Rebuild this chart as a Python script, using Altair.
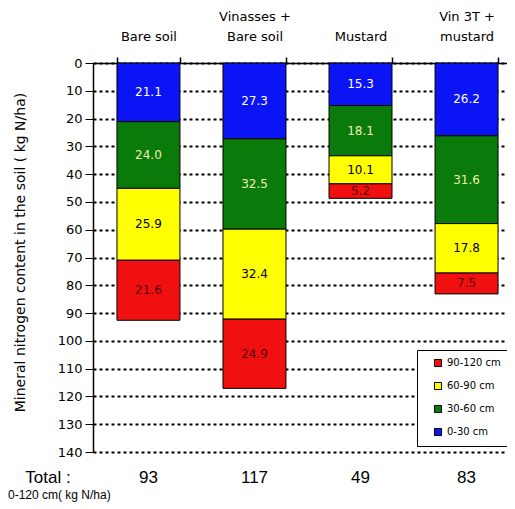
import altair as alt
import pandas as pd

categories = ["Bare soil", "Vinasses + Bare soil", "Mustard", "Vin 3T + mustard"]
layers = ["0-30 cm", "30-60 cm", "60-90 cm", "90-120 cm"]
v0_30 = [21.1, 27.3, 15.3, 26.2]
v30_60 = [24.0, 32.5, 18.1, 31.6]
v60_90 = [25.9, 32.4, 10.1, 17.8]
v90_120 = [21.6, 24.9, 5.2, 7.5]
totals = [93, 117, 49, 83]
y_ticks = list(range(0, 141, 10))

bar_colors = {"0-30 cm": "#0a14f5", "30-60 cm": "#0a7a0a", "60-90 cm": "#ffff00", "90-120 cm": "#f01010"}
text_colors = {"0-30 cm": "#ffffff", "30-60 cm": "#f0f0b0", "60-90 cm": "#000000", "90-120 cm": "#5a0000"}

rows = []
for li, (lay, vals) in enumerate(zip(layers, [v0_30, v30_60, v60_90, v90_120])):
    for c, v in zip(categories, vals):
        rows.append({"category": c, "layer": lay, "order": li, "value": v})
df = pd.DataFrame(rows)
tot_df = pd.DataFrame({"category": categories, "total": totals})

FONT = "DejaVu Sans"
legend_order = layers[::-1]

xscale = alt.Scale(domain=categories, range=[0, 429], paddingInner=0.406, paddingOuter=0.226)

y_axis = alt.Axis(values=y_ticks, grid=True, gridDash=[3, 3], gridColor="black",
                  gridWidth=2, gridOpacity=1, tickSize=8, tickColor="black",
                  domainColor="black", domainWidth=1.5, labelFontSize=13,
                  labelFont=FONT, labelColor="black", labelPadding=3, labelOverlap=False,
                  title="Mineral nitrogen content  in the soil  ( kg N/ha)",
                  titleFont=FONT, titleFontSize=14, titleFontWeight="normal",
                  titleColor="black", titleX=-73, titleY=189, titleAngle=270,
                  titleAlign="center", titleBaseline="middle")
y_scale = alt.Scale(domain=[0, 140], reverse=True, nice=False)

x_axis = alt.Axis(orient="top", title=None, labelAngle=0, tickBand="extent",
                  labelExpr="indexof(datum.label, '+') >= 0 ? split(replace(datum.label, '+ ', '+|'), '|') : ['', datum.label]",
                  labelFontSize=13, labelFont=FONT, labelColor="black", labelPadding=34,
                  labelLineHeight=20, tickSize=6, tickWidth=1.5, tickColor="black",
                  domainColor="black", domainWidth=1.5)

base = alt.Chart(df).transform_stack(
    stack="value", groupby=["category"], as_=["y0", "y1"], sort=[alt.SortField("order")]
).transform_calculate(mid="(datum.y0 + datum.y1) / 2")

bars = base.mark_bar(stroke="black", strokeWidth=1).encode(
    x=alt.X("category:N", sort=categories, scale=xscale, axis=x_axis),
    y=alt.Y("y0:Q", scale=y_scale, axis=y_axis),
    y2="y1:Q",
    color=alt.Color("layer:N",
                    scale=alt.Scale(domain=legend_order, range=[bar_colors[l] for l in legend_order]),
                    legend=alt.Legend(title=None, orient="none", legendX=324, legendY=287,
                                      direction="vertical", fillColor="white", strokeColor="black",
                                      padding=8, labelFontSize=10, labelFont=FONT,
                                      labelColor="black", symbolType="square", symbolSize=50,
                                      symbolStrokeColor="black", symbolStrokeWidth=1,
                                      symbolOffset=8, rowPadding=11)),
)

labels = base.mark_text(fontSize=12, font=FONT).encode(
    x=alt.X("category:N", sort=categories, scale=xscale, axis=x_axis),
    y=alt.Y("mid:Q", scale=y_scale, axis=y_axis),
    text=alt.Text("value:Q", format=".1f"),
    color=alt.Color("layer:N",
                    scale=alt.Scale(domain=layers, range=[text_colors[l] for l in layers]),
                    legend=None),
)

tot = alt.Chart(tot_df).mark_text(fontSize=17, font="Arial", color="black").encode(
    x=alt.X("category:N", sort=categories, scale=xscale, axis=x_axis),
    y=alt.value(415),
    text="total:Q",
)

tot_lbl = alt.Chart(pd.DataFrame({"t": ["Total :"]})).mark_text(
    fontSize=17, font="Arial", color="black").encode(
    x=alt.value(-45), y=alt.value(415), text="t:N")

sub_lbl = alt.Chart(pd.DataFrame({"t": ["0-120 cm( kg N/ha)"]})).mark_text(
    fontSize=12, font="Arial", color="black", align="left").encode(
    x=alt.value(-85), y=alt.value(432), text="t:N")

chart = alt.layer(bars, labels, tot, tot_lbl, sub_lbl).resolve_scale(
    color="independent"
).properties(
    width=414, height=389,
    padding={"left": 85, "top": 55, "right": 0, "bottom": 50},
    autosize=alt.AutoSizeParams(type="none"),
).configure_view(stroke=None)

chart.save("out.html", embed_options={"renderer": "svg", "actions": False})
